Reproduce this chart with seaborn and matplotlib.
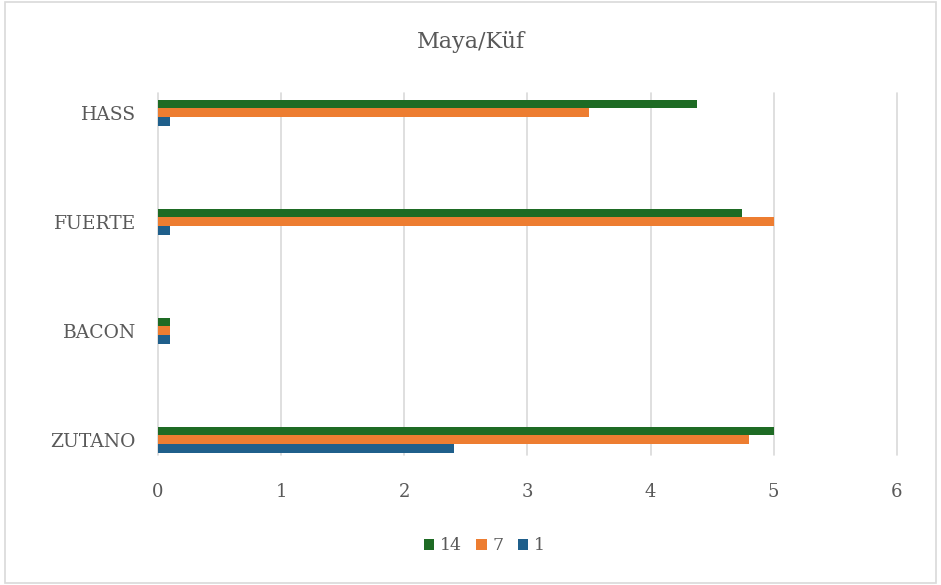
import matplotlib
matplotlib.use("Agg")
import matplotlib.pyplot as plt
import seaborn as sns
import pandas as pd
from matplotlib.patches import Rectangle

# veriler
cesitler = ["HASS", "FUERTE", "BACON", "ZUTANO"]
gun_14 = [4.38, 4.74, 0.1, 5.0]
gun_7 = [3.5, 5.0, 0.1, 4.8]
gun_1 = [0.1, 0.1, 0.1, 2.4]
seriler = ["14", "7", "1"]
renkler = {"14": "#1e6b24", "7": "#ed7d31", "1": "#1f5f8b"}

rows = []
for s, vals in zip(seriler, [gun_14, gun_7, gun_1]):
    for c, v in zip(cesitler, vals):
        rows.append({"cesit": c, "gun": s, "deger": v})
df = pd.DataFrame(rows)

sns.set_style("white")
plt.rcParams["font.family"] = ["DejaVu Serif"]

fig = plt.figure(figsize=(9.41, 5.85), dpi=100)
ax = fig.add_axes([0.168, 0.222, 0.785, 0.619])

sns.barplot(data=df, y="cesit", x="deger", hue="gun", order=cesitler,
            hue_order=seriler, palette=renkler, orient="h", width=0.24,
            gap=0, saturation=1, linewidth=0, ax=ax, legend=True)

ax.set_xlim(0, 6)
ax.set_ylim(3.14, -0.18)
ax.set_xticks(range(7))
ax.xaxis.grid(True, color="#d9d9d9", linewidth=1.2)
for gl in ax.get_xgridlines():
    gl.set_clip_on(False)
ax.set_axisbelow(True)
for sp in ax.spines.values():
    sp.set_visible(False)
ax.set_xlabel("")
ax.set_ylabel("")
ax.tick_params(axis="x", colors="#595959", labelsize=13, length=0, pad=20)
ax.tick_params(axis="y", colors="#595959", labelsize=13.5, length=0, pad=16)
for t in ax.get_xticklabels() + ax.get_yticklabels():
    t.set_color("#595959")

fig.text(0.5, 0.928, "Maya/Küf", color="#595959", fontsize=16,
         ha="center", va="center")

handles, labels = ax.get_legend_handles_labels()
ax.get_legend().remove()
fig.legend(handles, labels, loc="center", bbox_to_anchor=(0.515, 0.067), ncol=3,
           frameon=False, handlelength=0.6, handleheight=0.6, handletextpad=0.35,
           columnspacing=0.8, fontsize=12.5, labelcolor="#595959")

fig.patches.append(Rectangle((0.005, 0.004), 0.99, 0.992, transform=fig.transFigure,
                             fill=False, edgecolor="#d9d9d9", linewidth=1.2))

fig.savefig("out.png", dpi=100)
